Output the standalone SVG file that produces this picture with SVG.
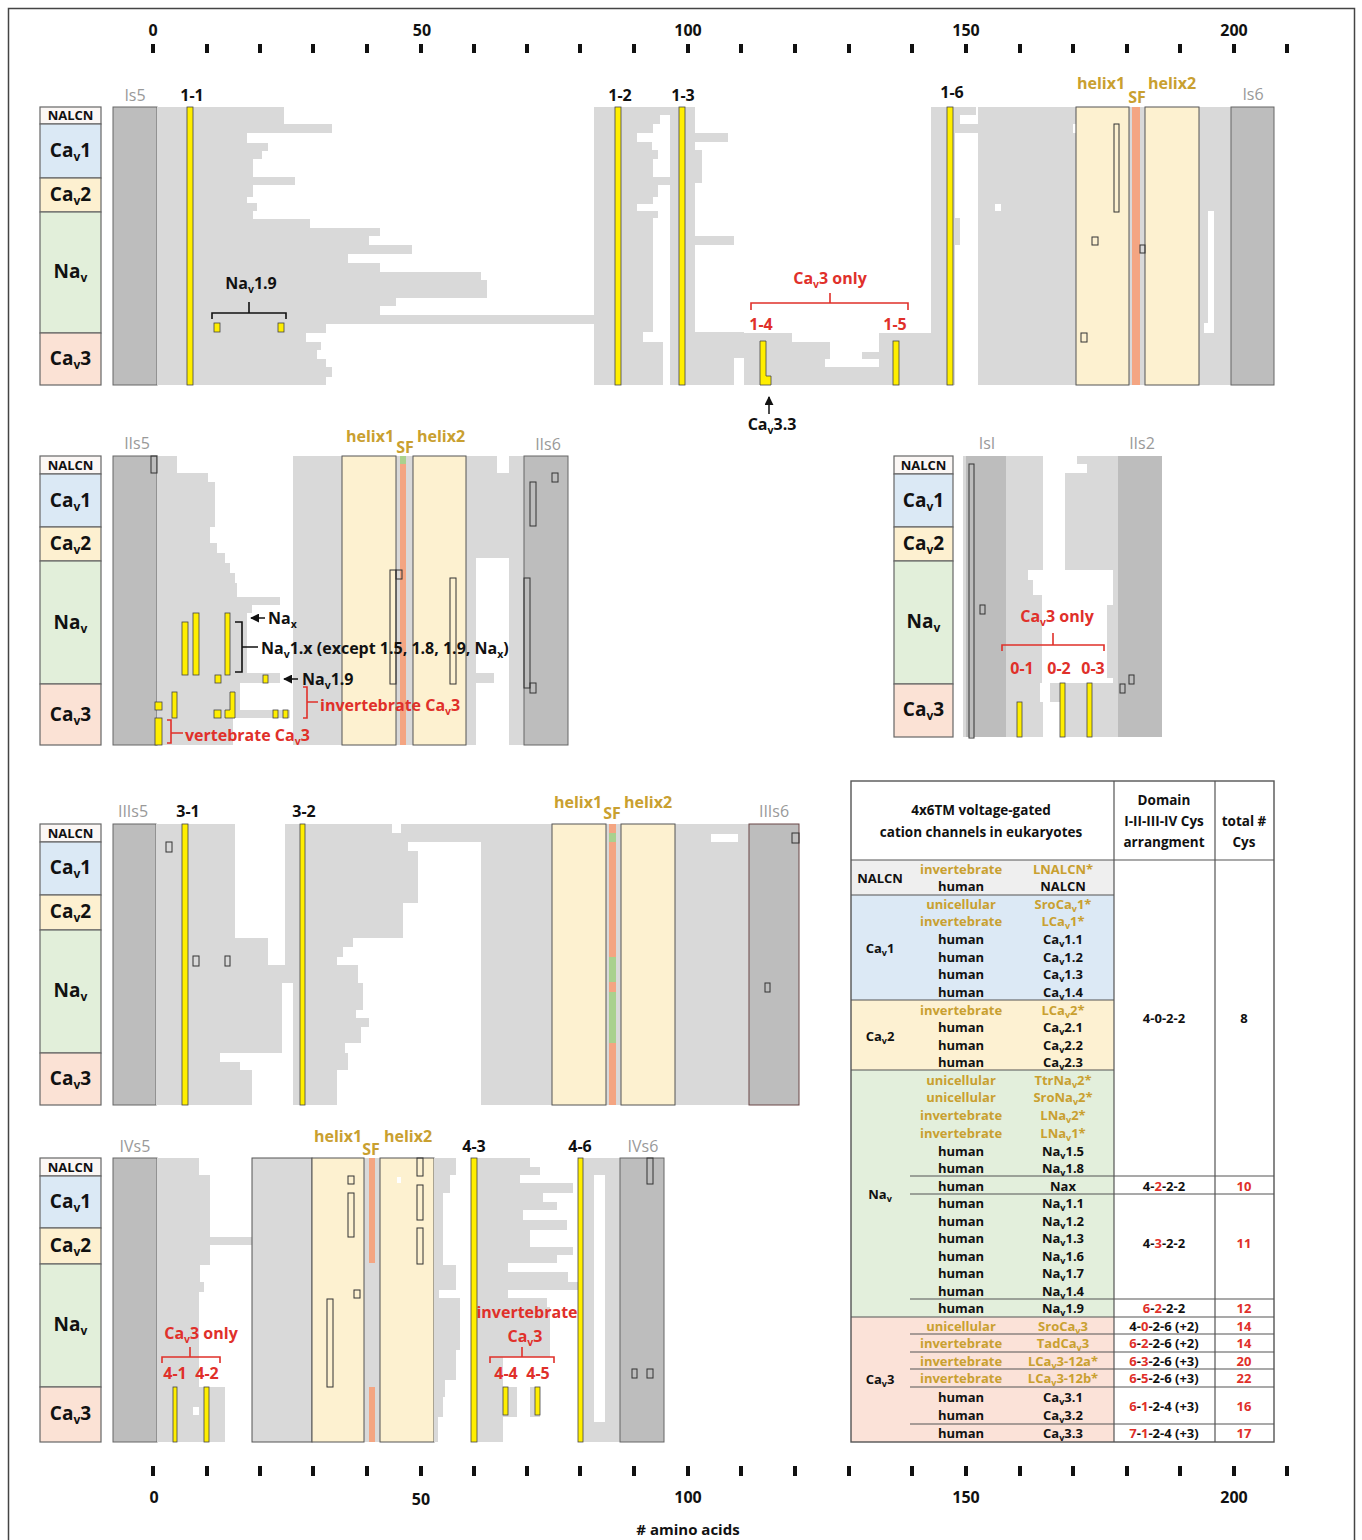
<svg xmlns="http://www.w3.org/2000/svg" width="1362" height="1540" viewBox="0 0 1362 1540">
<style>
text{font-family:"Open Sans","Lato","Liberation Sans",sans-serif;font-weight:700;fill:#111}
.ax{font-size:16px;text-anchor:middle}
.tk{fill:#111}
.n{fill:#fbf7f5;stroke:#666;stroke-width:1.2}
.c1{fill:#dbe9f5;stroke:#666;stroke-width:1.2}
.c2{fill:#fdf0d0;stroke:#666;stroke-width:1.2}
.nv{fill:#e2efda;stroke:#666;stroke-width:1.2}
.c3{fill:#fbe2d5;stroke:#666;stroke-width:1.2}
.lt{font-size:19px;text-anchor:middle}
.ln{font-size:13px;text-anchor:middle}
.sb{font-size:12px}
.g{fill:#d9d9d9}
.w{fill:#fff}
.dk{fill:#bdbdbd}
.tm{fill:#bdbdbd;stroke:#666;stroke-width:1}
.bx{fill:#d9d9d9;stroke:#555;stroke-width:1}
.hx{fill:#fdf1d0;stroke:#555;stroke-width:1}
.sf{fill:#f4a582}
.sfg{fill:#a9d18e}
.y{fill:#ffee00;stroke:#444;stroke-width:0.8}
.o{fill:none;stroke:#333;stroke-width:1}
.seg{font-size:16px;text-anchor:middle}
.tmn{font-size:16px;text-anchor:middle;fill:#999;font-weight:400}
.gd{fill:#c9a030}
.rd{fill:#e0302a}
.hl{font-size:16px;text-anchor:middle;fill:#c9a030}
.an{font-size:16px}
.ans{font-size:10.5px}
.br{fill:none;stroke:#111;stroke-width:1.6}
.rbr{fill:none;stroke:#e0302a;stroke-width:1.6}
.tb{font-size:13px;text-anchor:middle}
.ts{font-size:9px}
.tl{stroke:#555;stroke-width:1.2;fill:none}
</style>
<defs>
<marker id="ah" viewBox="0 0 10 10" refX="9" refY="5" markerWidth="6" markerHeight="6" orient="auto"><path d="M0 0L10 5L0 10Z" fill="#111"/></marker>
</defs>
<rect x="8.5" y="8.5" width="1346" height="1545" fill="#fff" stroke="#444" stroke-width="1.5"/>

<g id="axis-top">
<text class="ax" x="153" y="36">0</text><text class="ax" x="422" y="36">50</text><text class="ax" x="688" y="36">100</text><text class="ax" x="966" y="36">150</text><text class="ax" x="1234" y="36">200</text>
<g class="tk">
<rect x="151" y="44" width="4" height="9"/><rect x="205" y="44" width="4" height="9"/><rect x="258" y="44" width="4" height="9"/><rect x="311" y="44" width="4" height="9"/><rect x="365" y="44" width="4" height="9"/><rect x="419" y="44" width="4" height="9"/><rect x="472" y="44" width="4" height="9"/><rect x="525" y="44" width="4" height="9"/><rect x="578" y="44" width="4" height="9"/><rect x="632" y="44" width="4" height="9"/><rect x="686" y="44" width="4" height="9"/><rect x="739" y="44" width="4" height="9"/><rect x="793" y="44" width="4" height="9"/><rect x="847" y="44" width="4" height="9"/><rect x="910" y="44" width="4" height="9"/><rect x="964" y="44" width="4" height="9"/><rect x="1018" y="44" width="4" height="9"/><rect x="1071" y="44" width="4" height="9"/><rect x="1125" y="44" width="4" height="9"/><rect x="1178" y="44" width="4" height="9"/><rect x="1232" y="44" width="4" height="9"/><rect x="1285" y="44" width="4" height="9"/>
</g>
</g>

<g id="axis-bottom">
<g class="tk">
<rect x="151" y="1466" width="4" height="10"/><rect x="205" y="1466" width="4" height="10"/><rect x="258" y="1466" width="4" height="10"/><rect x="311" y="1466" width="4" height="10"/><rect x="365" y="1466" width="4" height="10"/><rect x="419" y="1466" width="4" height="10"/><rect x="472" y="1466" width="4" height="10"/><rect x="525" y="1466" width="4" height="10"/><rect x="578" y="1466" width="4" height="10"/><rect x="632" y="1466" width="4" height="10"/><rect x="686" y="1466" width="4" height="10"/><rect x="739" y="1466" width="4" height="10"/><rect x="793" y="1466" width="4" height="10"/><rect x="847" y="1466" width="4" height="10"/><rect x="910" y="1466" width="4" height="10"/><rect x="964" y="1466" width="4" height="10"/><rect x="1018" y="1466" width="4" height="10"/><rect x="1071" y="1466" width="4" height="10"/><rect x="1125" y="1466" width="4" height="10"/><rect x="1178" y="1466" width="4" height="10"/><rect x="1232" y="1466" width="4" height="10"/><rect x="1285" y="1466" width="4" height="10"/>
</g>
<text class="ax" x="154" y="1503">0</text><text class="ax" x="421" y="1505">50</text><text class="ax" x="688" y="1503">100</text><text class="ax" x="966" y="1503">150</text><text class="ax" x="1234" y="1503">200</text>
<text class="ax" x="688" y="1535" style="font-size:15px">#  amino acids</text>
</g>

<!-- Domain I -->
<g id="domain-I">
<rect class="n" x="40" y="107" width="61" height="17"/><rect class="c1" x="40" y="124" width="61" height="54"/><rect class="c2" x="40" y="178" width="61" height="34"/><rect class="nv" x="40" y="212" width="61" height="121"/><rect class="c3" x="40" y="333" width="61" height="52"/>
<text class="ln" x="70.5" y="120">NALCN</text>
<text class="lt" x="70.5" y="157">Ca<tspan class="sb" dy="4">v</tspan><tspan dy="-4">1</tspan></text>
<text class="lt" x="70.5" y="201">Ca<tspan class="sb" dy="4">v</tspan><tspan dy="-4">2</tspan></text>
<text class="lt" x="70.5" y="278">Na<tspan class="sb" dy="4">v</tspan></text>
<text class="lt" x="70.5" y="365">Ca<tspan class="sb" dy="4">v</tspan><tspan dy="-4">3</tspan></text>
<rect class="tm" x="113" y="107" width="44" height="278"/>
<path class="g" d="M157 107H284V124H332V133H247V143H268V151H262V159H253V177H295V185H253V197H247V203H257V211H253V219H310V228H380V236H369V245H412V254H348V263H380V272H481V280H487V298H396V306H380V315H594V324H326V333H306V342H321V350H317V359H326V367H332V377H326V385H157Z"/>
<rect class="g" x="594" y="107" width="101" height="278"/>
<rect class="w" x="660" y="115" width="10" height="9"/><rect class="w" x="653" y="124" width="17" height="9"/><rect class="w" x="637" y="133" width="33" height="9"/><rect class="w" x="652" y="142" width="18" height="8"/><rect class="w" x="658" y="150" width="12" height="9"/><rect class="w" x="653" y="159" width="17" height="18"/><rect class="w" x="658" y="185" width="12" height="12"/><rect class="w" x="653" y="197" width="17" height="7"/><rect class="w" x="637" y="204" width="33" height="7"/><rect class="w" x="658" y="211" width="12" height="7"/><rect class="w" x="653" y="218" width="17" height="114"/><rect class="w" x="643" y="332" width="27" height="10"/><rect class="w" x="663" y="342" width="7" height="43"/>
<rect class="g" x="695" y="133" width="33" height="9"/><rect class="g" x="695" y="236" width="39" height="9"/><rect class="g" x="695" y="150" width="7" height="33"/>
<rect class="g" x="695" y="332" width="39" height="53"/><rect class="g" x="734" y="332" width="10" height="26"/>
<rect class="g" x="744" y="333" width="189" height="52"/>
<rect class="w" x="792" y="333" width="87" height="9"/><rect class="w" x="830" y="342" width="49" height="10"/><rect class="w" x="830" y="352" width="32" height="7"/><rect class="w" x="825" y="359" width="54" height="8"/>
<rect class="g" x="931" y="107" width="24" height="278"/>
<path class="g" d="M955 107H976V115H960V124H988V133H955Z"/>
<rect class="g" x="955" y="218" width="5" height="27"/>
<rect class="g" x="978" y="107" width="98" height="278"/>
<rect class="w" x="1073" y="124" width="3" height="9"/><rect class="w" x="995" y="204" width="6" height="7"/>
<rect class="g" x="1129" y="107" width="16" height="278"/>
<rect class="g" x="1199" y="107" width="32" height="278"/>
<rect class="w" x="1208" y="211" width="6" height="122"/><rect class="w" x="1204" y="323" width="4" height="10"/>
<rect class="hx" x="1076" y="107" width="53" height="278"/>
<rect class="sf" x="1132" y="107" width="8" height="278"/>
<rect class="hx" x="1145" y="107" width="54" height="278"/>
<rect class="tm" x="1231" y="107" width="43" height="278"/>
<rect class="o" x="1114" y="124" width="5" height="88"/><rect class="o" x="1092" y="237" width="6" height="8"/><rect class="o" x="1081" y="333" width="6" height="9"/><rect class="o" x="1140" y="245" width="5" height="8"/>
<rect class="y" x="187" y="107" width="6" height="278"/>
<rect class="y" x="615" y="107" width="6" height="278"/>
<rect class="y" x="679" y="107" width="6" height="278"/>
<rect class="y" x="947" y="107" width="6" height="278"/>
<path class="y" d="M760 341H766V376H771V385H760Z"/>
<rect class="y" x="893" y="341" width="6" height="44"/>
<rect class="y" x="214" y="323" width="6" height="9"/><rect class="y" x="278" y="323" width="6" height="9"/>
<text class="tmn" x="135" y="101">Is5</text>
<text class="seg" x="192" y="101">1-1</text><text class="seg" x="620" y="101">1-2</text><text class="seg" x="683" y="101">1-3</text><text class="seg" x="952" y="98">1-6</text>
<text class="hl" x="1101" y="89">helix1</text><text class="hl" x="1137" y="103">SF</text><text class="hl" x="1172" y="89">helix2</text>
<text class="tmn" x="1253" y="100">Is6</text>
<text class="an" x="251" y="289" text-anchor="middle">Na<tspan class="ans" dy="4">v</tspan><tspan dy="-4">1.9</tspan></text>
<text class="an rd" x="830" y="284" text-anchor="middle">Ca<tspan class="ans" dy="4">v</tspan><tspan dy="-4">3 only</tspan></text>
<text class="seg rd" x="761" y="330">1-4</text><text class="seg rd" x="895" y="330">1-5</text>
<text class="an" x="772" y="430" text-anchor="middle">Ca<tspan class="ans" dy="4">v</tspan><tspan dy="-4">3.3</tspan></text>
</g>

<!-- Domain II -->
<g id="domain-II">
<rect class="n" x="40" y="456" width="61" height="18"/><rect class="c1" x="40" y="474" width="61" height="53"/><rect class="c2" x="40" y="527" width="61" height="34"/><rect class="nv" x="40" y="561" width="61" height="123"/><rect class="c3" x="40" y="684" width="61" height="61"/>
<text class="ln" x="70.5" y="470">NALCN</text>
<text class="lt" x="70.5" y="507">Ca<tspan class="sb" dy="4">v</tspan><tspan dy="-4">1</tspan></text>
<text class="lt" x="70.5" y="550">Ca<tspan class="sb" dy="4">v</tspan><tspan dy="-4">2</tspan></text>
<text class="lt" x="70.5" y="629">Na<tspan class="sb" dy="4">v</tspan></text>
<text class="lt" x="70.5" y="721">Ca<tspan class="sb" dy="4">v</tspan><tspan dy="-4">3</tspan></text>
<rect class="tm" x="113" y="456" width="44" height="289"/>
<path class="g" d="M157 456H177V473H208V482H215V527H210V543H217V553H225V563H230V573H235V583H237V597H280V605H252V613H247V673H280V683H240V710H290V718H233V745H157Z"/>
<rect class="g" x="293" y="456" width="49" height="289"/>
<rect class="g" x="396" y="456" width="17" height="289"/>
<rect class="g" x="466" y="456" width="58" height="289"/>
<rect class="w" x="497" y="456" width="12" height="17"/><rect class="w" x="476" y="558" width="33" height="115"/><rect class="w" x="494" y="673" width="15" height="10"/><rect class="w" x="476" y="683" width="33" height="62"/>
<rect class="hx" x="342" y="456" width="54" height="289"/>
<rect class="sf" x="400" y="456" width="6" height="289"/><rect class="sfg" x="400" y="456" width="6" height="8"/>
<rect class="hx" x="413" y="456" width="53" height="289"/>
<rect class="tm" x="524" y="456" width="44" height="289"/>
<rect class="o" x="151" y="456" width="6" height="17"/>
<rect class="o" x="390" y="570" width="6" height="114"/><rect class="o" x="396" y="570" width="6" height="9"/>
<rect class="o" x="450" y="578" width="6" height="106"/>
<rect class="o" x="552" y="473" width="6" height="9"/><rect class="o" x="530" y="482" width="6" height="44"/><rect class="o" x="524" y="578" width="6" height="110"/><rect class="o" x="530" y="683" width="6" height="10"/>
<rect class="y" x="182" y="622" width="6" height="53"/><rect class="y" x="193" y="613" width="6" height="62"/><rect class="y" x="225" y="613" width="5" height="62"/>
<rect class="y" x="215" y="675" width="6" height="8"/><rect class="y" x="263" y="675" width="5" height="8"/>
<rect class="y" x="155" y="702" width="7" height="8"/><rect class="y" x="172" y="692" width="5" height="26"/><rect class="y" x="214" y="710" width="7" height="8"/>
<path class="y" d="M225 718V710H230V692H235V718Z"/>
<rect class="y" x="273" y="710" width="5" height="8"/><rect class="y" x="283" y="710" width="5" height="8"/>
<rect class="y" x="155" y="718" width="7" height="27"/>
<text class="tmn" x="137" y="449">IIs5</text>
<text class="hl" x="370" y="442">helix1</text><text class="hl" x="405" y="453">SF</text><text class="hl" x="441" y="442">helix2</text>
<text class="tmn" x="548" y="450">IIs6</text>
<text class="an" x="268" y="624">Na<tspan class="ans" dy="4">x</tspan></text>
<text class="an" x="261" y="654">Na<tspan class="ans" dy="4">v</tspan><tspan dy="-4">1.x (except 1.5, 1.8, 1.9, Na</tspan><tspan class="ans" dy="4">x</tspan><tspan dy="-4">)</tspan></text>
<text class="an" x="302" y="685">Na<tspan class="ans" dy="4">v</tspan><tspan dy="-4">1.9</tspan></text>
<text class="an rd" x="320" y="711">invertebrate Ca<tspan class="ans" dy="4">v</tspan><tspan dy="-4">3</tspan></text>
<text class="an rd" x="185" y="741">vertebrate Ca<tspan class="ans" dy="4">v</tspan><tspan dy="-4">3</tspan></text>
</g>

<!-- Domain 0 (IsI - IIs2 linker) -->
<g id="domain-linker">
<rect class="n" x="894" y="456" width="59" height="18"/><rect class="c1" x="894" y="474" width="59" height="53"/><rect class="c2" x="894" y="527" width="59" height="34"/><rect class="nv" x="894" y="561" width="59" height="123"/><rect class="c3" x="894" y="684" width="59" height="53"/>
<text class="ln" x="923.5" y="470">NALCN</text>
<text class="lt" x="923.5" y="507">Ca<tspan class="sb" dy="4">v</tspan><tspan dy="-4">1</tspan></text>
<text class="lt" x="923.5" y="550">Ca<tspan class="sb" dy="4">v</tspan><tspan dy="-4">2</tspan></text>
<text class="lt" x="923.5" y="628">Na<tspan class="sb" dy="4">v</tspan></text>
<text class="lt" x="923.5" y="716">Ca<tspan class="sb" dy="4">v</tspan><tspan dy="-4">3</tspan></text>
<rect class="g" x="963" y="456" width="199" height="281"/>
<rect class="dk" x="966" y="456" width="40" height="281"/>
<rect class="dk" x="1118" y="456" width="44" height="281"/>
<rect class="w" x="1043" y="456" width="34" height="17"/><rect class="w" x="1077" y="464" width="10" height="9"/><rect class="w" x="1043" y="473" width="22" height="97"/><rect class="w" x="1028" y="570" width="85" height="10"/><rect class="w" x="1033" y="580" width="80" height="15"/><rect class="w" x="1042" y="595" width="71" height="10"/><rect class="w" x="1042" y="605" width="65" height="73"/><rect class="w" x="1042" y="678" width="71" height="5"/><rect class="w" x="1040" y="683" width="10" height="19"/><rect class="w" x="1043" y="702" width="17" height="35"/>
<rect class="o" x="969" y="464" width="5" height="274"/>
<rect class="o" x="980" y="605" width="5" height="9"/><rect class="o" x="1120" y="684" width="5" height="9"/><rect class="o" x="1129" y="675" width="5" height="9"/>
<rect class="y" x="1017" y="702" width="5" height="35"/><rect class="y" x="1060" y="683" width="5" height="54"/><rect class="y" x="1087" y="683" width="5" height="54"/>
<text class="tmn" x="987" y="449">IsI</text><text class="tmn" x="1142" y="449">IIs2</text>
<text class="an rd" x="1057" y="622" text-anchor="middle">Ca<tspan class="ans" dy="4">v</tspan><tspan dy="-4">3 only</tspan></text>
<text class="seg rd" x="1022" y="674">0-1</text><text class="seg rd" x="1059" y="674">0-2</text><text class="seg rd" x="1093" y="674">0-3</text>
</g>

<!-- Domain III -->
<g id="domain-III">
<rect class="n" x="40" y="824" width="61" height="18"/><rect class="c1" x="40" y="842" width="61" height="53"/><rect class="c2" x="40" y="895" width="61" height="35"/><rect class="nv" x="40" y="930" width="61" height="123"/><rect class="c3" x="40" y="1053" width="61" height="52"/>
<text class="ln" x="70.5" y="838">NALCN</text>
<text class="lt" x="70.5" y="874">Ca<tspan class="sb" dy="4">v</tspan><tspan dy="-4">1</tspan></text>
<text class="lt" x="70.5" y="918">Ca<tspan class="sb" dy="4">v</tspan><tspan dy="-4">2</tspan></text>
<text class="lt" x="70.5" y="997">Na<tspan class="sb" dy="4">v</tspan></text>
<text class="lt" x="70.5" y="1085">Ca<tspan class="sb" dy="4">v</tspan><tspan dy="-4">3</tspan></text>
<rect class="tm" x="113" y="824" width="43" height="281"/>
<rect class="g" x="156" y="824" width="396" height="281"/>
<rect class="w" x="235" y="824" width="50" height="114"/><rect class="w" x="268" y="938" width="17" height="27"/><rect class="w" x="282" y="983" width="11" height="70"/><rect class="w" x="220" y="1053" width="73" height="9"/><rect class="w" x="240" y="1062" width="53" height="8"/><rect class="w" x="252" y="1070" width="41" height="35"/>
<rect class="w" x="392" y="824" width="9" height="9"/>
<rect class="w" x="408" y="842" width="73" height="9"/><rect class="w" x="418" y="851" width="63" height="52"/><rect class="w" x="403" y="903" width="78" height="35"/><rect class="w" x="353" y="938" width="128" height="9"/><rect class="w" x="343" y="947" width="138" height="10"/><rect class="w" x="337" y="957" width="144" height="8"/><rect class="w" x="358" y="965" width="123" height="18"/><rect class="w" x="363" y="983" width="118" height="27"/><rect class="w" x="356" y="1010" width="125" height="8"/><rect class="w" x="369" y="1018" width="112" height="9"/><rect class="w" x="361" y="1027" width="120" height="16"/><rect class="w" x="345" y="1043" width="136" height="10"/><rect class="w" x="348" y="1053" width="133" height="17"/><rect class="w" x="337" y="1070" width="144" height="35"/>
<rect class="g" x="606" y="824" width="15" height="281"/>
<rect class="g" x="675" y="824" width="74" height="281"/>
<rect class="w" x="711" y="834" width="27" height="8"/>
<rect class="hx" x="552" y="824" width="54" height="281"/>
<rect class="sf" x="609" y="824" width="7" height="281"/>
<rect class="sfg" x="609" y="833" width="7" height="9"/><rect class="sfg" x="609" y="957" width="7" height="25"/><rect class="sfg" x="609" y="992" width="7" height="51"/>
<rect class="hx" x="621" y="824" width="54" height="281"/>
<rect class="tm" x="749" y="824" width="50" height="281" style="stroke:#6a4646"/>
<rect class="o" x="166" y="842" width="6" height="10"/><rect class="o" x="193" y="956" width="6" height="10"/><rect class="o" x="225" y="956" width="5" height="10"/><rect class="o" x="792" y="833" width="7" height="10"/><rect class="o" x="765" y="983" width="5" height="9"/>
<rect class="y" x="182" y="824" width="6" height="281"/>
<rect class="y" x="300" y="824" width="5" height="281"/>
<text class="tmn" x="133" y="817">IIIs5</text>
<text class="seg" x="188" y="817">3-1</text><text class="seg" x="304" y="817">3-2</text>
<text class="hl" x="578" y="808">helix1</text><text class="hl" x="612" y="819">SF</text><text class="hl" x="648" y="808">helix2</text>
<text class="tmn" x="774" y="817">IIIs6</text>
</g>

<!-- Domain IV -->
<g id="domain-IV">
<rect class="n" x="40" y="1158" width="61" height="18"/><rect class="c1" x="40" y="1176" width="61" height="52"/><rect class="c2" x="40" y="1228" width="61" height="36"/><rect class="nv" x="40" y="1264" width="61" height="123"/><rect class="c3" x="40" y="1387" width="61" height="55"/>
<text class="ln" x="70.5" y="1172">NALCN</text>
<text class="lt" x="70.5" y="1208">Ca<tspan class="sb" dy="4">v</tspan><tspan dy="-4">1</tspan></text>
<text class="lt" x="70.5" y="1252">Ca<tspan class="sb" dy="4">v</tspan><tspan dy="-4">2</tspan></text>
<text class="lt" x="70.5" y="1331">Na<tspan class="sb" dy="4">v</tspan></text>
<text class="lt" x="70.5" y="1420">Ca<tspan class="sb" dy="4">v</tspan><tspan dy="-4">3</tspan></text>
<rect class="tm" x="113" y="1158" width="44" height="284"/>
<path class="g" d="M157 1158H199V1175H210V1237H252V1245H210V1265H200V1282H204V1292H199V1387H225V1442H157Z"/>
<rect class="w" x="193" y="1407" width="6" height="8"/>
<rect class="bx" x="252" y="1158" width="60" height="284"/>
<rect class="g" x="364" y="1158" width="16" height="284"/>
<rect class="sf" x="369" y="1158" width="6" height="105"/><rect class="sf" x="369" y="1387" width="6" height="55"/>
<rect class="hx" x="312" y="1158" width="52" height="284"/>
<rect class="hx" x="380" y="1158" width="54" height="284"/>
<rect class="w" x="397" y="1177" width="4" height="6"/>
<path class="g" d="M434 1158H456V1175H450V1193H443V1265H456V1290H439V1298H460V1350H456V1380H445V1397H443V1417H438V1442H434Z"/>
<path class="g" d="M477 1158H530V1167H540V1175H520V1183H573V1193H543V1202H557V1210H523V1220H567V1230H530V1247H573V1255H557V1263H508V1272H568V1282H578V1290H508V1298H547V1307H550V1357H503V1387H517V1417H503V1442H477Z"/>
<rect class="g" x="530" y="1387" width="10" height="30"/>
<rect class="g" x="583" y="1158" width="37" height="284"/>
<rect class="w" x="594" y="1175" width="11" height="247"/>
<rect class="tm" x="620" y="1158" width="44" height="284"/>
<rect class="o" x="647" y="1158" width="6" height="26"/><rect class="o" x="632" y="1369" width="5" height="9"/><rect class="o" x="647" y="1369" width="6" height="9"/>
<rect class="o" x="348" y="1176" width="6" height="8"/><rect class="o" x="348" y="1193" width="6" height="44"/><rect class="o" x="354" y="1290" width="6" height="8"/><rect class="o" x="327" y="1299" width="6" height="88"/>
<rect class="o" x="417" y="1158" width="6" height="18"/><rect class="o" x="417" y="1185" width="6" height="35"/><rect class="o" x="417" y="1228" width="6" height="36"/>
<rect class="y" x="471" y="1158" width="6" height="284"/>
<rect class="y" x="578" y="1158" width="5" height="284"/>
<rect class="y" x="173" y="1387" width="4" height="55"/><rect class="y" x="204" y="1387" width="5" height="55"/>
<rect class="y" x="503" y="1387" width="5" height="28"/><rect class="y" x="535" y="1387" width="5" height="28"/>
<text class="tmn" x="135" y="1152">IVs5</text>
<text class="hl" x="338" y="1142">helix1</text><text class="hl" x="371" y="1155">SF</text><text class="hl" x="408" y="1142">helix2</text>
<text class="seg" x="474" y="1152">4-3</text><text class="seg" x="580" y="1152">4-6</text>
<text class="tmn" x="643" y="1152">IVs6</text>
<text class="an rd" x="201" y="1339" text-anchor="middle">Ca<tspan class="ans" dy="4">v</tspan><tspan dy="-4">3 only</tspan></text>
<text class="seg rd" x="175" y="1379">4-1</text><text class="seg rd" x="207" y="1379">4-2</text>
<text class="an rd" x="527" y="1318" text-anchor="middle">invertebrate</text>
<text class="an rd" x="525" y="1342" text-anchor="middle">Ca<tspan class="ans" dy="4">v</tspan><tspan dy="-4">3</tspan></text>
<text class="seg rd" x="506" y="1379">4-4</text><text class="seg rd" x="538" y="1379">4-5</text>
</g>

<g id="connectors">
<path class="br" d="M212 319V313H286V319M249 313V302"/>
<path class="rbr" d="M751 310V303H908V310M830 303V293"/>
<line x1="769" y1="414" x2="769" y2="397" stroke="#111" stroke-width="1.5" marker-end="url(#ah)"/>
<line x1="265" y1="618" x2="251" y2="618" stroke="#111" stroke-width="1.5" marker-end="url(#ah)"/>
<path class="br" d="M235 622H242V672H235M242 647H258"/>
<line x1="298" y1="679" x2="284" y2="679" stroke="#111" stroke-width="1.5" marker-end="url(#ah)"/>
<path class="rbr" d="M303 687H307V718H303M307 702H318"/>
<path class="rbr" d="M167 720H171V743H167M171 733H183"/>
<path class="rbr" d="M1002 651V645H1104V651M1053 645V633"/>
<path class="rbr" d="M162 1363V1357H220V1363M190 1357V1347"/>
<path class="rbr" d="M490 1363V1357H554V1363M522 1357V1347"/>
</g>

<!-- Table -->
<g id="table">
<rect x="851" y="781" width="423" height="661" fill="#fff"/>
<rect x="851" y="860" width="263" height="35" fill="#efefef"/>
<rect x="851" y="895" width="263" height="105" fill="#dce9f5"/>
<rect x="851" y="1000" width="263" height="70" fill="#fdf1d2"/>
<rect x="851" y="1070" width="263" height="247" fill="#e3efdc"/>
<rect x="851" y="1317" width="263" height="125" fill="#fbe2d8"/>
<path class="tl" d="M1114 781V1442M1215 781V1442M851 860H1274M851 895H1114M851 1000H1114M851 1070H1114M910 1176H1274M910 1194H1274M910 1299H1274M851 1317H1274M910 1334H1274M910 1352H1274M910 1369H1274M910 1387H1274M910 1424H1274"/>
<rect x="851" y="781" width="423" height="661" fill="none" stroke="#555" stroke-width="1.4"/>
<text class="tb" x="981" y="815" style="font-size:13.5px">4x6TM voltage-gated</text>
<text class="tb" x="981" y="837" style="font-size:13.5px">cation channels in eukaryotes</text>
<text class="tb" x="1164" y="805" style="font-size:13.5px">Domain</text>
<text class="tb" x="1164" y="826" style="font-size:13.5px">I-II-III-IV Cys</text>
<text class="tb" x="1164" y="847" style="font-size:13.5px">arrangment</text>
<text class="tb" x="1244" y="826" style="font-size:13.5px">total #</text>
<text class="tb" x="1244" y="847" style="font-size:13.5px">Cys</text>
<text class="tb" x="880" y="883">NALCN</text>
<text class="tb" x="880" y="953">Ca<tspan class="ts" dy="3">v</tspan><tspan dy="-3">1</tspan></text>
<text class="tb" x="880" y="1041">Ca<tspan class="ts" dy="3">v</tspan><tspan dy="-3">2</tspan></text>
<text class="tb" x="880" y="1199">Na<tspan class="ts" dy="3">v</tspan></text>
<text class="tb" x="880" y="1384">Ca<tspan class="ts" dy="3">v</tspan><tspan dy="-3">3</tspan></text>
<g class="tb">
<text class="tb gd" x="961" y="874">invertebrate</text><text class="tb gd" x="1063" y="874">LNALCN*</text>
<text class="tb" x="961" y="891">human</text><text class="tb" x="1063" y="891">NALCN</text>
<text class="tb gd" x="961" y="909">unicellular</text><text class="tb gd" x="1063" y="909">SroCa<tspan class="ts" dy="3">v</tspan><tspan dy="-3">1*</tspan></text>
<text class="tb gd" x="961" y="926">invertebrate</text><text class="tb gd" x="1063" y="926">LCa<tspan class="ts" dy="3">v</tspan><tspan dy="-3">1*</tspan></text>
<text class="tb" x="961" y="944">human</text><text class="tb" x="1063" y="944">Ca<tspan class="ts" dy="3">v</tspan><tspan dy="-3">1.1</tspan></text>
<text class="tb" x="961" y="962">human</text><text class="tb" x="1063" y="962">Ca<tspan class="ts" dy="3">v</tspan><tspan dy="-3">1.2</tspan></text>
<text class="tb" x="961" y="979">human</text><text class="tb" x="1063" y="979">Ca<tspan class="ts" dy="3">v</tspan><tspan dy="-3">1.3</tspan></text>
<text class="tb" x="961" y="997">human</text><text class="tb" x="1063" y="997">Ca<tspan class="ts" dy="3">v</tspan><tspan dy="-3">1.4</tspan></text>
<text class="tb gd" x="961" y="1015">invertebrate</text><text class="tb gd" x="1063" y="1015">LCa<tspan class="ts" dy="3">v</tspan><tspan dy="-3">2*</tspan></text>
<text class="tb" x="961" y="1032">human</text><text class="tb" x="1063" y="1032">Ca<tspan class="ts" dy="3">v</tspan><tspan dy="-3">2.1</tspan></text>
<text class="tb" x="961" y="1050">human</text><text class="tb" x="1063" y="1050">Ca<tspan class="ts" dy="3">v</tspan><tspan dy="-3">2.2</tspan></text>
<text class="tb" x="961" y="1067">human</text><text class="tb" x="1063" y="1067">Ca<tspan class="ts" dy="3">v</tspan><tspan dy="-3">2.3</tspan></text>
<text class="tb gd" x="961" y="1085">unicellular</text><text class="tb gd" x="1063" y="1085">TtrNa<tspan class="ts" dy="3">v</tspan><tspan dy="-3">2*</tspan></text>
<text class="tb gd" x="961" y="1102">unicellular</text><text class="tb gd" x="1063" y="1102">SroNa<tspan class="ts" dy="3">v</tspan><tspan dy="-3">2*</tspan></text>
<text class="tb gd" x="961" y="1120">invertebrate</text><text class="tb gd" x="1063" y="1120">LNa<tspan class="ts" dy="3">v</tspan><tspan dy="-3">2*</tspan></text>
<text class="tb gd" x="961" y="1138">invertebrate</text><text class="tb gd" x="1063" y="1138">LNa<tspan class="ts" dy="3">v</tspan><tspan dy="-3">1*</tspan></text>
<text class="tb" x="961" y="1156">human</text><text class="tb" x="1063" y="1156">Na<tspan class="ts" dy="3">v</tspan><tspan dy="-3">1.5</tspan></text>
<text class="tb" x="961" y="1173">human</text><text class="tb" x="1063" y="1173">Na<tspan class="ts" dy="3">v</tspan><tspan dy="-3">1.8</tspan></text>
<text class="tb" x="961" y="1191">human</text><text class="tb" x="1063" y="1191">Nax</text>
<text class="tb" x="961" y="1208">human</text><text class="tb" x="1063" y="1208">Na<tspan class="ts" dy="3">v</tspan><tspan dy="-3">1.1</tspan></text>
<text class="tb" x="961" y="1226">human</text><text class="tb" x="1063" y="1226">Na<tspan class="ts" dy="3">v</tspan><tspan dy="-3">1.2</tspan></text>
<text class="tb" x="961" y="1243">human</text><text class="tb" x="1063" y="1243">Na<tspan class="ts" dy="3">v</tspan><tspan dy="-3">1.3</tspan></text>
<text class="tb" x="961" y="1261">human</text><text class="tb" x="1063" y="1261">Na<tspan class="ts" dy="3">v</tspan><tspan dy="-3">1.6</tspan></text>
<text class="tb" x="961" y="1278">human</text><text class="tb" x="1063" y="1278">Na<tspan class="ts" dy="3">v</tspan><tspan dy="-3">1.7</tspan></text>
<text class="tb" x="961" y="1296">human</text><text class="tb" x="1063" y="1296">Na<tspan class="ts" dy="3">v</tspan><tspan dy="-3">1.4</tspan></text>
<text class="tb" x="961" y="1313">human</text><text class="tb" x="1063" y="1313">Na<tspan class="ts" dy="3">v</tspan><tspan dy="-3">1.9</tspan></text>
<text class="tb gd" x="961" y="1331">unicellular</text><text class="tb gd" x="1063" y="1331">SroCa<tspan class="ts" dy="3">v</tspan><tspan dy="-3">3</tspan></text>
<text class="tb gd" x="961" y="1348">invertebrate</text><text class="tb gd" x="1063" y="1348">TadCa<tspan class="ts" dy="3">v</tspan><tspan dy="-3">3</tspan></text>
<text class="tb gd" x="961" y="1366">invertebrate</text><text class="tb gd" x="1063" y="1366">LCa<tspan class="ts" dy="3">v</tspan><tspan dy="-3">3-12a*</tspan></text>
<text class="tb gd" x="961" y="1383">invertebrate</text><text class="tb gd" x="1063" y="1383">LCa<tspan class="ts" dy="3">v</tspan><tspan dy="-3">3-12b*</tspan></text>
<text class="tb" x="961" y="1402">human</text><text class="tb" x="1063" y="1402">Ca<tspan class="ts" dy="3">v</tspan><tspan dy="-3">3.1</tspan></text>
<text class="tb" x="961" y="1420">human</text><text class="tb" x="1063" y="1420">Ca<tspan class="ts" dy="3">v</tspan><tspan dy="-3">3.2</tspan></text>
<text class="tb" x="961" y="1438">human</text><text class="tb" x="1063" y="1438">Ca<tspan class="ts" dy="3">v</tspan><tspan dy="-3">3.3</tspan></text>
</g>
<text class="tb" x="1164" y="1023">4-0-2-2</text><text class="tb" x="1244" y="1023">8</text>
<text class="tb" x="1164" y="1191">4-<tspan class="rd">2</tspan>-2-2</text><text class="tb rd" x="1244" y="1191">10</text>
<text class="tb" x="1164" y="1248">4-<tspan class="rd">3</tspan>-2-2</text><text class="tb rd" x="1244" y="1248">11</text>
<text class="tb" x="1164" y="1313"><tspan class="rd">6</tspan>-<tspan class="rd">2</tspan>-2-2</text><text class="tb rd" x="1244" y="1313">12</text>
<text class="tb" x="1164" y="1331">4-<tspan class="rd">0</tspan>-2-6 (+2)</text><text class="tb rd" x="1244" y="1331">14</text>
<text class="tb" x="1164" y="1348"><tspan class="rd">6</tspan>-<tspan class="rd">2</tspan>-2-6 (+2)</text><text class="tb rd" x="1244" y="1348">14</text>
<text class="tb" x="1164" y="1366"><tspan class="rd">6</tspan>-<tspan class="rd">3</tspan>-2-6 (+3)</text><text class="tb rd" x="1244" y="1366">20</text>
<text class="tb" x="1164" y="1383"><tspan class="rd">6</tspan>-<tspan class="rd">5</tspan>-2-6 (+3)</text><text class="tb rd" x="1244" y="1383">22</text>
<text class="tb" x="1164" y="1411"><tspan class="rd">6</tspan>-<tspan class="rd">1</tspan>-2-4 (+3)</text><text class="tb rd" x="1244" y="1411">16</text>
<text class="tb" x="1164" y="1438"><tspan class="rd">7</tspan>-<tspan class="rd">1</tspan>-2-4 (+3)</text><text class="tb rd" x="1244" y="1438">17</text>
</g>
</svg>
